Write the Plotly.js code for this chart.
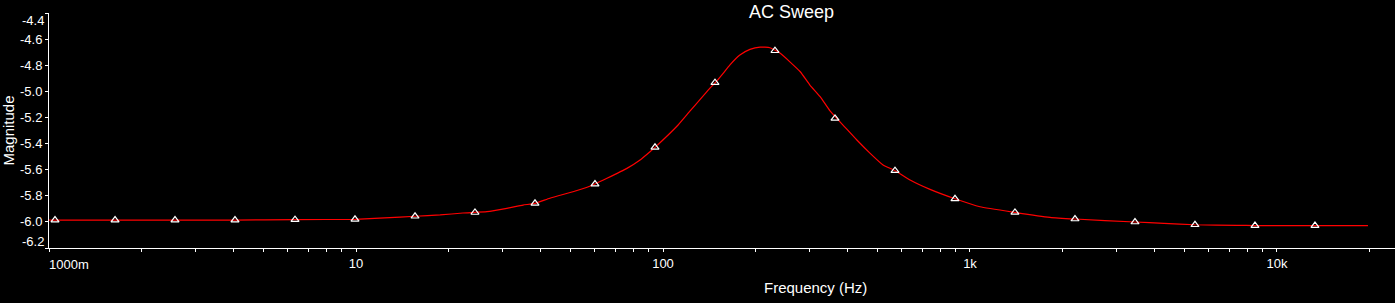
<!DOCTYPE html>
<html>
<head>
<meta charset="utf-8">
<script src="https://cdn.plot.ly/plotly-3.0.1.min.js"></script>
<style>
html,body{margin:0;padding:0;background:#000;}
#chart{width:1395px;height:303px;}
</style>
</head>
<body>
<div id="chart"></div>
<script>
// Curve samples (frequency in Hz, magnitude)
const lineFreq = [1, 1.64, 2.57, 4.03, 6.33, 9.92, 12.4, 15.6, 18.8, 22.3, 26.7, 31.0, 35.0, 38.3, 42.8, 50.9, 56.6, 60.0, 65.7, 76.3, 84.2, 90.7, 94.2, 112, 122, 142, 148, 157, 165, 178, 192, 207, 223, 241, 259, 280, 301, 325, 350, 392, 428, 473, 521, 570, 638, 741, 894, 1078, 1401, 1822, 2198, 3447, 4284, 5406, 7407, 8478, 13297, 19786];
const lineMag = [-5.986, -5.986, -5.986, -5.986, -5.983, -5.980, -5.970, -5.957, -5.947, -5.932, -5.922, -5.896, -5.871, -5.858, -5.819, -5.769, -5.735, -5.710, -5.666, -5.590, -5.526, -5.463, -5.429, -5.258, -5.156, -4.977, -4.934, -4.862, -4.799, -4.722, -4.679, -4.661, -4.666, -4.709, -4.774, -4.850, -4.952, -5.041, -5.150, -5.276, -5.373, -5.475, -5.564, -5.608, -5.679, -5.751, -5.823, -5.884, -5.927, -5.965, -5.978, -6.001, -6.011, -6.022, -6.026, -6.028, -6.028, -6.028];

// Marker points
const markerFreq = [1.046, 1.641, 2.573, 4.035, 6.329, 9.925, 15.57, 24.41, 38.29, 60.04, 94.17, 147.7, 231.6, 363.3, 569.8, 893.6, 1401, 2198, 3447, 5406, 8478, 13297];
const markerMag = [-5.986, -5.986, -5.986, -5.986, -5.983, -5.980, -5.957, -5.928, -5.858, -5.710, -5.429, -4.934, -4.689, -5.207, -5.608, -5.823, -5.927, -5.978, -6.001, -6.022, -6.028, -6.028];

// Tick labels
const xMajorVals = [1, 10, 100, 1000, 10000];
const xMajorText = ['1000m', '10', '100', '1k', '10k'];
const yTickVals = [-6.2, -6.0, -5.8, -5.6, -5.4, -5.2, -5.0, -4.8, -4.6, -4.4];
const yTickText = ['-6.2', '-6.0', '-5.8', '-5.6', '-5.4', '-5.2', '-5.0', '-4.8', '-4.6', '-4.4'];

const FONT = 'Liberation Sans, Arial, sans-serif';

// x tick positions: decades plus 2..9 minor ticks
const xTickVals = [], xTickText = [];
xMajorVals.forEach(function (d, i) {
  for (let m = 1; m <= 9; m++) {
    const v = d * m;
    if (v > 24000) break;
    xTickVals.push(v);
    // first label is drawn as an annotation (left aligned)
    xTickText.push(m === 1 && i > 0 ? xMajorText[i] : '');
  }
});

// y ticks: end labels drawn as shifted annotations
const yTextAxis = yTickText.map(function (t, i) {
  return (i === 0 || i === yTickText.length - 1) ? '' : t;
});

const traces = [
  {
    x: lineFreq, y: lineMag, type: 'scatter', mode: 'lines',
    line: {color: '#ff0000', width: 1.2, shape: 'spline', smoothing: 0.4},
    hoverinfo: 'skip', showlegend: false
  },
  {
    x: markerFreq, y: markerMag, type: 'scatter', mode: 'markers',
    marker: {symbol: 'triangle-up-open', size: 7, color: '#ffffff', line: {color: '#ffffff', width: 1.2}},
    hoverinfo: 'skip', showlegend: false
  }
];

const annFont = {family: FONT, size: 13, color: '#ffffff'};

const layout = {
  width: 1395, height: 303,
  paper_bgcolor: '#000000', plot_bgcolor: '#000000',
  margin: {l: 49, r: 0, t: 13, b: 55, pad: 0},
  showlegend: false,
  font: {family: FONT, color: '#ffffff', size: 13},
  xaxis: {
    type: 'log', range: [0, 4.3844],
    tickmode: 'array', tickvals: xTickVals, ticktext: xTickText,
    ticks: 'outside', ticklen: 3, tickwidth: 1, tickcolor: '#ffffff',
    showline: true, linecolor: '#ffffff', linewidth: 1,
    showgrid: false, zeroline: false,
    tickfont: {family: FONT, size: 13, color: '#ffffff'},
    fixedrange: true
  },
  yaxis: {
    range: [-6.2, -4.4],
    tickmode: 'array', tickvals: yTickVals, ticktext: yTextAxis,
    ticks: 'outside', ticklen: 3, tickwidth: 1, tickcolor: '#ffffff',
    showline: true, linecolor: '#ffffff', linewidth: 1,
    showgrid: false, zeroline: false,
    tickfont: {family: FONT, size: 13, color: '#ffffff'},
    fixedrange: true
  },
  annotations: [
    {text: 'AC Sweep', xref: 'paper', yref: 'paper', x: (791 - 49) / 1346, y: 1,
     xanchor: 'center', yanchor: 'top', yshift: 13, showarrow: false,
     font: {family: FONT, size: 18, color: '#ffffff'}},
    {text: 'Magnitude', xref: 'paper', yref: 'paper', x: 0, y: 0.5, textangle: -90,
     xanchor: 'center', yanchor: 'middle', xshift: -41, showarrow: false,
     font: {family: FONT, size: 15, color: '#ffffff'}},
    {text: 'Frequency (Hz)', xref: 'paper', yref: 'paper', x: (815 - 49) / 1346, y: 0,
     xanchor: 'center', yanchor: 'middle', yshift: -39, showarrow: false,
     font: {family: FONT, size: 15, color: '#ffffff'}},
    {text: xMajorText[0], xref: 'paper', yref: 'paper', x: 0, y: 0,
     xanchor: 'left', yanchor: 'middle', yshift: -16, xshift: -2, showarrow: false, font: annFont},
    {text: yTickText[0], xref: 'paper', yref: 'y', x: 0, y: yTickVals[0],
     xanchor: 'right', yanchor: 'middle', xshift: -3, yshift: 7, showarrow: false, font: annFont},
    {text: yTickText[yTickText.length - 1], xref: 'paper', yref: 'y', x: 0, y: yTickVals[yTickVals.length - 1],
     xanchor: 'right', yanchor: 'middle', xshift: -3, yshift: -7, showarrow: false, font: annFont}
  ]
};

Plotly.newPlot('chart', traces, layout, {staticPlot: true, displayModeBar: false});
</script>
</body>
</html>
